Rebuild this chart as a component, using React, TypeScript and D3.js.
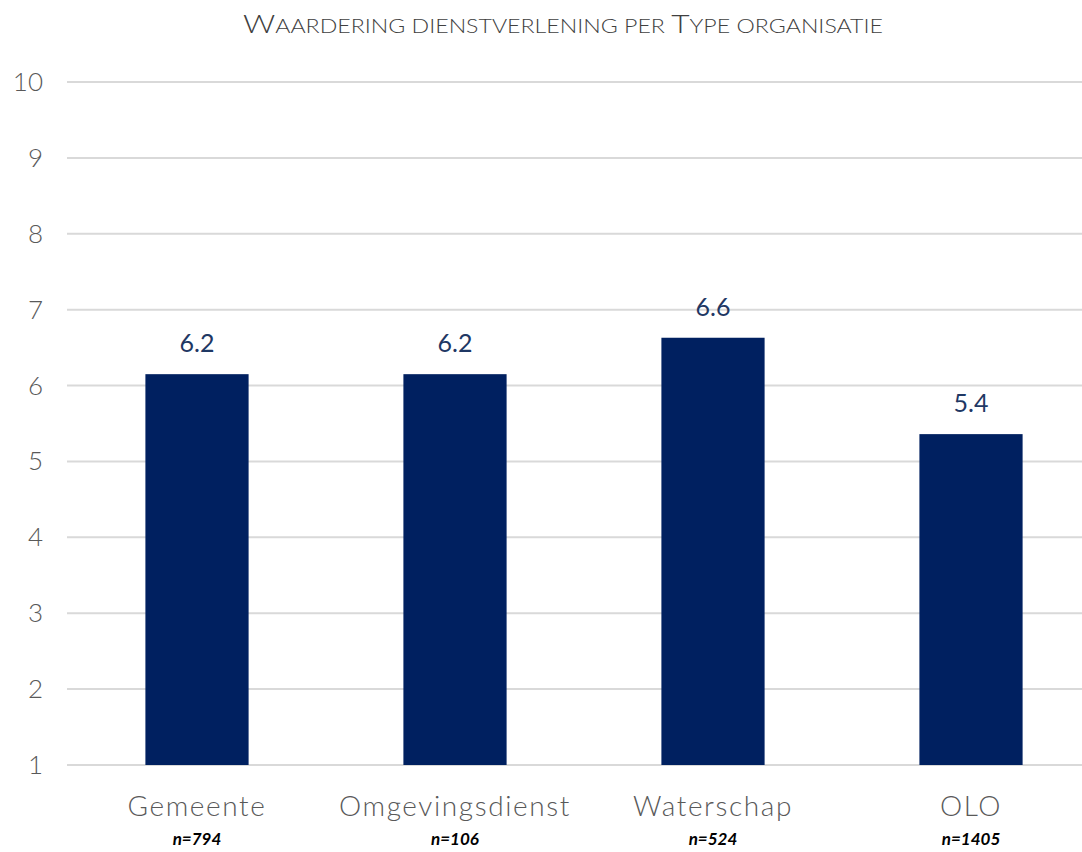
import React from "react";
import * as d3 from "d3";

const categories = ["Gemeente", "Omgevingsdienst", "Waterschap", "OLO"];
const values = [6.15, 6.15, 6.63, 5.36];
const valueLabels = ["6.2", "6.2", "6.6", "5.4"];
const nLabels = ["n=794", "n=106", "n=524", "n=1405"];
const yTicks = [1, 2, 3, 4, 5, 6, 7, 8, 9, 10];
const titleParts: [string, boolean][] = [
  ["W", true], ["AARDERING DIENSTVERLENING PER ", false], ["T", true], ["YPE ORGANISATIE", false],
];

const W = 1082, H = 852;
const FONT = "Lato, 'Open Sans', sans-serif";

export default function App() {
  const x = d3.scaleBand<string>().domain(categories).range([68, 1100]).paddingInner(0.6).paddingOuter(0.3);
  const y = d3.scaleLinear().domain([1, 10]).range([765, 82]);
  const bw = x.bandwidth();
  return (
    <svg width={W} height={H} style={{ position: "absolute", left: 0, top: 0, background: "#fff" }}>
      <text x={563} y={33} textAnchor="middle" fontFamily={FONT} fontWeight={300} fill="#404040"
        textLength={640} lengthAdjust="spacingAndGlyphs">
        {titleParts.map(([t, big], i) => (
          <tspan key={i} fontSize={big ? 26 : 19}>{t}</tspan>
        ))}
      </text>
      {yTicks.map((t) => (
        <g key={t}>
          <line x1={67} x2={W} y1={y(t)} y2={y(t)} stroke="#d9d9d9" strokeWidth={2} />
          <text x={43} y={y(t) + 9} textAnchor="end" fontFamily={FONT} fontWeight={300} fontSize={26} fill="#595959">{t}</text>
        </g>
      ))}
      {categories.map((c, i) => {
        const bx = x(c)!;
        const cx = bx + bw / 2;
        return (
          <g key={c}>
            <rect x={bx} y={y(values[i])} width={bw} height={y(1) - y(values[i])} fill="#002060" />
            <text x={cx} y={y(values[i]) - 22} textAnchor="middle" fontFamily={FONT} fontWeight={400} fontSize={25} fill="#1f3864">{valueLabels[i]}</text>
            <text x={cx} y={816} textAnchor="middle" fontFamily={FONT} fontWeight={300} fontSize={28} letterSpacing={1.6} fill="#595959">{c}</text>
            <text x={cx} y={845} textAnchor="middle" fontFamily={FONT} fontWeight={700} fontStyle="italic" fontSize={17} fill="#000">{nLabels[i]}</text>
          </g>
        );
      })}
    </svg>
  );
}
